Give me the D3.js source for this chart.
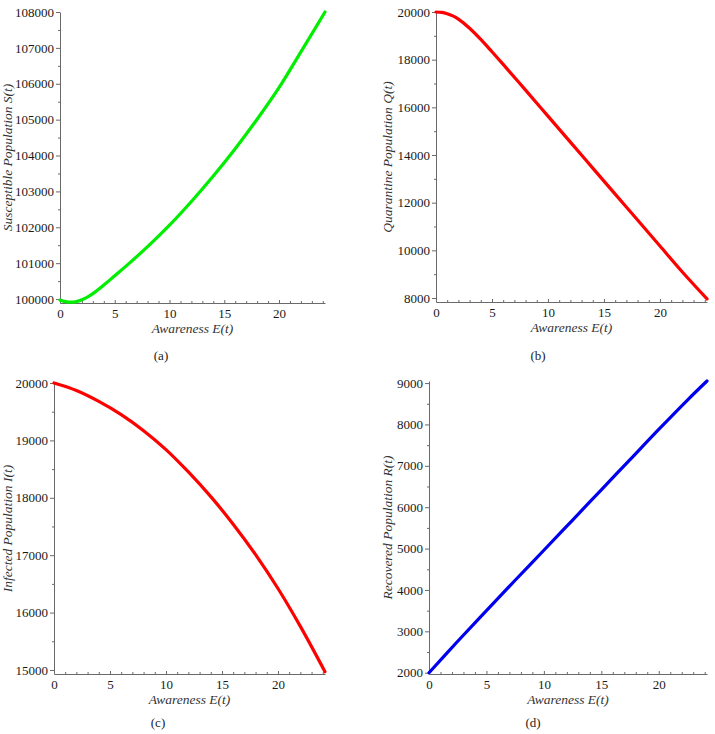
<!DOCTYPE html>
<html>
<head>
<meta charset="utf-8">
<script src="https://cdn.jsdelivr.net/npm/d3@7"></script>
<style>
  body { margin: 0; background: #fff; }
  text { font-family: "Liberation Serif", "DejaVu Serif", serif; }
</style>
</head>
<body>
<div id="chart"></div>
<script>
// values
var xTicks = [0, 5, 10, 15, 20];
var xMax = 24.2;

var tS = [0, 0.5, 1, 1.5, 2, 2.5, 3, 4, 5, 6, 8, 10, 12, 14, 16, 18, 20, 22, 24.2];
var susceptible = [99970, 99928, 99912, 99930, 99980, 100055, 100150, 100390, 100650, 100910,
  101460, 102060, 102720, 103430, 104190, 105010, 105890, 106890, 108000];
var sTicks = [100000, 101000, 102000, 103000, 104000, 105000, 106000, 107000, 108000];

var tQ = [0, 0.5, 1, 1.5, 2, 3, 4, 5, 6, 8, 10, 12, 14, 16, 18, 20, 22, 24.2];
var quarantine = [20000, 19985, 19930, 19835, 19700, 19320, 18850, 18330, 17800, 16720,
  15630, 14540, 13450, 12360, 11270, 10180, 9090, 7960];
var qTicks = [8000, 10000, 12000, 14000, 16000, 18000, 20000];

var tI = [0, 2, 4, 6, 8, 10, 12, 14, 16, 18, 20, 22, 24.2];
var infected = [20000, 19870, 19680, 19450, 19170, 18840, 18450, 18020, 17540, 17010,
  16420, 15760, 14970];
var iTicks = [15000, 16000, 17000, 18000, 19000, 20000];

var tR = [0, 2.5, 5, 7.5, 10, 12.5, 15, 17.5, 20, 22.5, 24.2];
var recovered = [2000, 2760, 3500, 4235, 4960, 5690, 6420, 7150, 7880, 8590, 9050];
var rTicks = [2000, 3000, 4000, 5000, 6000, 7000, 8000, 9000];

var svg = d3.select("#chart")
  .append("svg")
  .attr("width", 715)
  .attr("height", 734);

// panel layout (pixel boxes) + which arrays feed each panel
var panels = [
  { t: tS, v: susceptible, ticks: sTicks, minor: 500, color: "#00ee00",
    left: 60, right: 325, top: 12, bottom: 303, yMin: 99890, yMax: 108000,
    ylab: "Susceptible Population S(t)", ylabX: 12, cap: "(a)", capX: 161, capY: 360 },
  { t: tQ, v: quarantine, ticks: qTicks, minor: 1000, color: "#ff0000",
    left: 436, right: 707, top: 12, bottom: 302, yMin: 7832, yMax: 20000,
    ylab: "Quarantine Population Q(t)", ylabX: 392, cap: "(b)", capX: 538, capY: 360 },
  { t: tI, v: infected, ticks: iTicks, minor: 500, color: "#ff0000",
    left: 54, right: 325, top: 383, bottom: 674, yMin: 14930, yMax: 20000,
    ylab: "Infected Population I(t)", ylabX: 12, cap: "(c)", capX: 158, capY: 727 },
  { t: tR, v: recovered, ticks: rTicks, minor: 500, color: "#0000ee",
    left: 429, right: 707, top: 381, bottom: 674, yMin: 1969, yMax: 9050,
    ylab: "Recovered Population R(t)", ylabX: 392, cap: "(d)", capX: 533, capY: 727 }
];

function drawPanel(p) {
  var x = d3.scaleLinear().domain([0, xMax]).range([p.left, p.right]);
  var y = d3.scaleLinear().domain([p.yMin, p.yMax]).range([p.bottom, p.top]);
  var g = svg.append("g");

  // minor x ticks every 1 unit
  var xMinor = d3.range(0, 25, 1).filter(d => d % 5 !== 0);
  g.append("g")
    .attr("transform", `translate(0, ${p.bottom})`)
    .call(d3.axisBottom(x).tickValues(xMinor).tickSize(-2).tickFormat(""))
    .call(a => a.select(".domain").remove());

  var xAxis = g.append("g")
    .attr("transform", `translate(0, ${p.bottom})`)
    .call(d3.axisBottom(x).tickValues(xTicks).tickSize(-3).tickSizeOuter(0).tickPadding(6));

  // minor y ticks halfway between the majors
  var yMinor = [];
  for (var v = p.ticks[0] - p.minor; v <= p.yMax; v += p.minor) {
    if (v >= p.yMin && p.ticks.indexOf(v) < 0) yMinor.push(v);
  }
  g.append("g")
    .attr("transform", `translate(${p.left}, 0)`)
    .call(d3.axisLeft(y).tickValues(yMinor).tickSize(2).tickFormat(""))
    .call(a => a.select(".domain").remove());

  var yAxis = g.append("g")
    .attr("transform", `translate(${p.left}, 0)`)
    .call(d3.axisLeft(y).tickValues(p.ticks).tickSize(4).tickSizeOuter(0).tickPadding(2)
      .tickFormat(d3.format("d")));

  [xAxis, yAxis].forEach(function(a) {
    a.selectAll("text")
      .attr("font-size", 13)
      .attr("font-family", '"Liberation Serif", serif')
      .attr("fill", "#1a1a1a");
  });
  g.selectAll(".domain, .tick line").attr("stroke", "#6a6a6a");

  // the curve
  var line = d3.line()
    .x((d, i) => x(p.t[i]))
    .y(d => y(d))
    .curve(d3.curveCatmullRom.alpha(0.5));

  g.append("path")
    .datum(p.v)
    .attr("d", line)
    .attr("fill", "none")
    .attr("stroke", p.color)
    .attr("stroke-width", 3.2)
    .attr("stroke-linecap", "round");

  // axis titles
  g.append("text")
    .attr("x", (p.left + p.right) / 2)
    .attr("y", p.bottom + 30)
    .attr("text-anchor", "middle")
    .attr("font-size", 13.5)
    .attr("font-style", "italic")
    .attr("fill", "#333")
    .text("Awareness E(t)");

  g.append("text")
    .attr("transform", `translate(${p.ylabX}, ${(p.top + p.bottom) / 2}) rotate(-90)`)
    .attr("text-anchor", "middle")
    .attr("font-size", 13.5)
    .attr("font-style", "italic")
    .attr("fill", "#333")
    .text(p.ylab);

  // sub-figure caption
  g.append("text")
    .attr("x", p.capX)
    .attr("y", p.capY)
    .attr("text-anchor", "middle")
    .attr("font-size", 13)
    .attr("fill", "#222")
    .text(p.cap);
}

panels.forEach(drawPanel);
</script>
</body>
</html>
